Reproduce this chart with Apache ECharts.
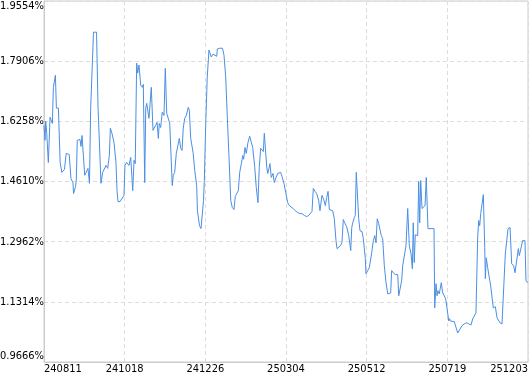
<!DOCTYPE html>
<html>
<head>
<meta charset="utf-8">
<script src="https://cdn.jsdelivr.net/npm/echarts@6/dist/echarts.min.js"></script>
<style>
html,body{margin:0;padding:0;background:#fff;}
#chart{width:530px;height:374px;}
</style>
</head>
<body>
<div id="chart"></div>
<script>
// x tick labels (dates, yymmdd)
var xLabels = ['240811','241018','241226','250304','250512','250719','251203'];
// y tick range (percent)
var yMin = 0.9666, yMax = 1.9554, yStep = 0.1648;
// sample positions along the time axis (0..480, 80 per labelled date step)
var xs = [0,1,1.7,2.7,4.3,6,7.7,8.3,9.3,10.3,11.3,12.3,14.3,16,17.7,20.3,22,23.7,25,26.7,28.7,29.3,31.3,32,33,35.7,36.7,37.7,40.4,41.7,43.6,45.1,46.3,47.6,49.1,52.1,53.6,54.8,56.5,58.2,59.5,61.5,63.2,64.8,65.8,67.4,69.4,71.4,72.4,73.4,75.4,79.3,80.3,82,84.3,86,88,89.3,90.5,91.9,92.9,94.2,95.9,97.5,98.5,99.9,100.9,101.9,104.1,105.8,106.4,108.1,109.1,110.8,112.1,113.4,114.3,115.7,117.3,119,120.3,121.7,123.3,124.7,125.7,127.2,128.2,129.6,131.2,132.9,134.2,135.6,136.9,138.1,139.5,141.1,143.1,144.1,145.5,147.8,149.5,151.4,152.2,154.2,155.7,156.7,158.2,159,160.4,161.9,163.6,164.6,165.9,167.6,169.3,171.3,171.9,174.2,175.8,177,178.5,180.2,181.8,183.5,185.2,186.7,188.4,189.7,191.1,192.7,194.1,195.7,197.1,198,199.3,200.6,202.3,204,205.3,207,209,210.5,212.2,213.5,214.9,216.5,217.5,218.5,219.5,220.9,221.9,223.1,224.1,225.4,227.1,228.4,230.1,231.8,233.4,234.7,236,238,239.7,241.7,243.3,244.9,247.2,249.2,251.6,253.9,255.9,258.2,260.5,262.5,263.8,265.8,267.1,268.8,270.4,272.4,273.7,275.7,277.4,279,280.4,281.7,283,284.6,286.3,287.9,289.6,290.6,292.3,293.9,295.5,296.8,298.2,300.2,302.2,304.2,305.2,306.2,307.7,308.7,309.7,310.7,312.1,313.4,315.4,316.7,318.6,319.3,321,322.6,325,326.6,328,329.3,330.5,331.9,333.2,334.5,335.9,337.5,339.2,340.9,342.4,343.8,344.8,346.4,348.4,350.8,351.8,353.4,354.7,355.7,357.3,359,360.7,362.3,364,365.3,366.2,367.2,368.2,370.6,371.6,372.6,373.6,374.9,376.6,377.9,379.1,380.8,386.8,387.5,388.8,389.8,390.7,392,394,395.4,398,398.7,400,401.4,402.3,402.9,406.9,408.6,410.3,412.6,414.5,416.8,419.2,421.2,423.5,425.2,426.7,428.4,430.1,431.1,432.1,433.1,434.7,435.7,437.1,437.7,438.6,440,441.6,443,444.3,445.6,447.6,449.3,450.9,452.2,454.2,455.5,457.5,459.2,460.2,462.2,463.8,465.8,467.1,468.8,470.4,471.4,472.8,474.7,476,477,478,480];
// values (percent)
var ys = [1.615,1.574,1.626,1.593,1.513,1.637,1.640,1.620,1.719,1.722,1.752,1.662,1.662,1.513,1.486,1.494,1.538,1.538,1.535,1.469,1.458,1.428,1.447,1.464,1.574,1.576,1.557,1.587,1.478,1.483,1.497,1.456,1.662,1.662,1.870,1.870,1.664,1.662,1.456,1.486,1.483,1.505,1.497,1.532,1.607,1.593,1.568,1.513,1.436,1.406,1.406,1.423,1.505,1.513,1.505,1.527,1.436,1.519,1.510,1.785,1.758,1.780,1.725,1.719,1.727,1.458,1.662,1.675,1.634,1.631,1.719,1.601,1.596,1.615,1.623,1.579,1.620,1.609,1.651,1.642,1.771,1.648,1.648,1.620,1.623,1.450,1.478,1.486,1.538,1.538,1.579,1.552,1.546,1.607,1.634,1.642,1.664,1.656,1.579,1.541,1.491,1.450,1.381,1.340,1.332,1.337,1.409,1.464,1.620,1.747,1.821,1.821,1.802,1.810,1.807,1.804,1.824,1.826,1.829,1.826,1.807,1.747,1.637,1.527,1.409,1.390,1.384,1.420,1.425,1.436,1.486,1.510,1.532,1.522,1.554,1.538,1.568,1.585,1.582,1.554,1.500,1.445,1.403,1.500,1.552,1.549,1.543,1.593,1.593,1.500,1.483,1.497,1.510,1.472,1.483,1.458,1.472,1.483,1.483,1.486,1.475,1.456,1.431,1.403,1.395,1.390,1.387,1.381,1.376,1.373,1.373,1.368,1.365,1.368,1.373,1.379,1.442,1.434,1.428,1.409,1.381,1.423,1.412,1.395,1.417,1.434,1.384,1.384,1.381,1.359,1.299,1.277,1.282,1.285,1.293,1.357,1.348,1.337,1.313,1.272,1.335,1.348,1.362,1.368,1.486,1.483,1.359,1.326,1.324,1.304,1.252,1.208,1.217,1.225,1.266,1.299,1.313,1.293,1.359,1.346,1.348,1.313,1.304,1.230,1.184,1.153,1.153,1.156,1.217,1.211,1.206,1.206,1.148,1.145,1.189,1.230,1.233,1.285,1.387,1.285,1.263,1.222,1.348,1.239,1.315,1.313,1.461,1.348,1.464,1.387,1.390,1.395,1.472,1.332,1.332,1.115,1.181,1.148,1.162,1.153,1.184,1.156,1.142,1.134,1.129,1.079,1.085,1.079,1.077,1.077,1.046,1.057,1.066,1.071,1.074,1.071,1.068,1.085,1.085,1.101,1.307,1.354,1.340,1.373,1.373,1.425,1.280,1.195,1.252,1.225,1.228,1.175,1.170,1.115,1.118,1.088,1.088,1.074,1.071,1.071,1.263,1.263,1.332,1.335,1.236,1.230,1.211,1.211,1.277,1.258,1.263,1.299,1.304,1.299,1.189,1.184];

var xStep = 80, xMax = 480;
var seriesData = xs.map(function (x, i) { return [x, ys[i]]; });

var chart = echarts.init(document.getElementById('chart'), null, {renderer: 'canvas'});
var font = "'DejaVu Sans Condensed', 'Liberation Sans', Arial, sans-serif";
chart.setOption({
  animation: false,
  backgroundColor: '#ffffff',
  grid: {left: 44, right: 2, top: 1, bottom: 12, show: true, borderColor: '#cccccc', borderWidth: 1, containLabel: false, outerBoundsMode: 'none'},
  xAxis: {
    type: 'value', min: 0, max: xMax, interval: xStep,
    axisLine: {show: true, lineStyle: {color: '#cccccc'}},
    axisTick: {show: false},
    splitLine: {show: true, lineStyle: {color: '#dddddd', type: [4, 3]}},
    axisLabel: {
      color: '#000000', fontSize: 11, fontFamily: font, margin: 2,
      alignMinLabel: 'left', alignMaxLabel: 'right',
      formatter: function (v) { return xLabels[Math.round(v / xStep)] || ''; }
    }
  },
  yAxis: {
    type: 'value', min: yMin, max: yMax, interval: yStep,
    axisLine: {show: true, lineStyle: {color: '#cccccc'}},
    axisTick: {show: false},
    splitLine: {show: true, lineStyle: {color: '#dddddd', type: [4, 3]}},
    axisLabel: {
      color: '#000000', fontSize: 11, fontFamily: font, margin: 0,
      verticalAlignMinLabel: 'bottom', verticalAlignMaxLabel: 'top',
      formatter: function (v) { return v.toFixed(4) + '%'; }
    }
  },
  series: [{
    type: 'line', data: seriesData, showSymbol: false, symbol: 'none',
    lineStyle: {color: '#4a8fe2', width: 1}, itemStyle: {color: '#4a8fe2'}
  }]
});
</script>
</body>
</html>
